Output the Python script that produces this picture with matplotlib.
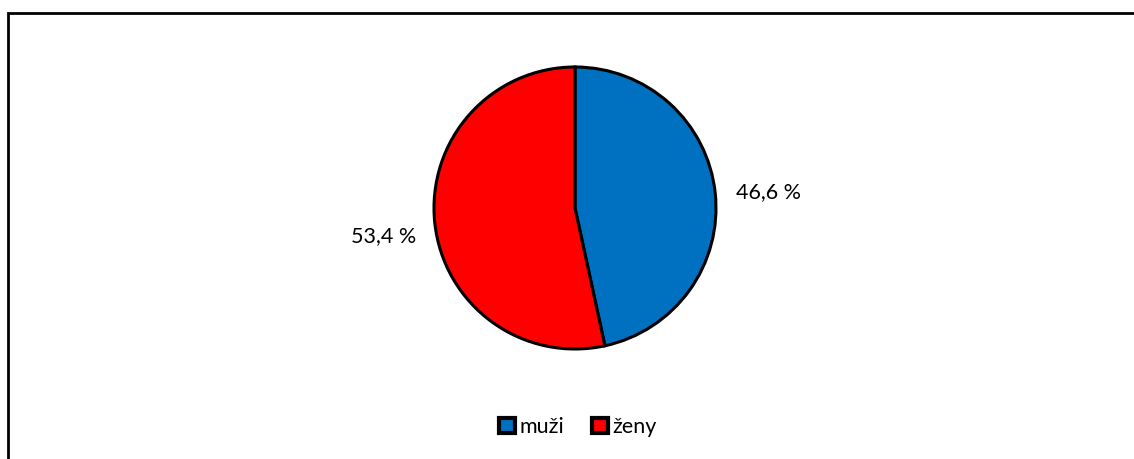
import matplotlib
matplotlib.use("Agg")
import matplotlib.pyplot as plt
from matplotlib.patches import Rectangle

# data
labels = ["muži", "ženy"]
shares = [46.6, 53.4]
colors = ["#0070C0", "#FF0000"]

W, H = 1134, 459
fig = plt.figure(figsize=(W / 100, H / 100), dpi=100)
plt.rcParams['font.family'] = ['Lato', 'DejaVu Sans']

# outer frame (only top and left edges fall inside the picture)
fig.patches.append(Rectangle((8 / W, -0.1), 1.2, 1 - 13 / H + 0.1,
                             transform=fig.transFigure, fill=False,
                             edgecolor="black", linewidth=2))

# pie axes: centre (575, 208) px, radius 141 px
cx, cy, r = 575, 208, 141
ax = fig.add_axes([(cx - r) / W, (H - cy - r) / H, 2 * r / W, 2 * r / H])

wedges, texts, autotexts = ax.pie(
    shares, colors=colors, startangle=90, counterclock=False,
    wedgeprops=dict(edgecolor="black", linewidth=2.2),
    autopct=lambda p: f"{p:.1f} %".replace(".", ","),
    pctdistance=1.38, textprops=dict(fontsize=15.5, color="black"))
ax.set_xlim(-1, 1)
ax.set_ylim(-1, 1)
ax.set_aspect("auto")
for w in wedges:
    w.set_clip_on(False)

# nudge labels to where they sit in the original
autotexts[0].set_position((1.37, 0.11))
autotexts[1].set_position((-1.36, -0.2))

leg = fig.legend(wedges, labels, loc="center", bbox_to_anchor=(578 / W, 1 - 427 / H),
                 ncol=2, frameon=False, fontsize=15.5, handlelength=0.75,
                 handleheight=0.75, handletextpad=0.2, columnspacing=1.3)
for h in leg.legend_handles:
    h.set_linewidth(3)

fig.savefig("out.png", dpi=100)
